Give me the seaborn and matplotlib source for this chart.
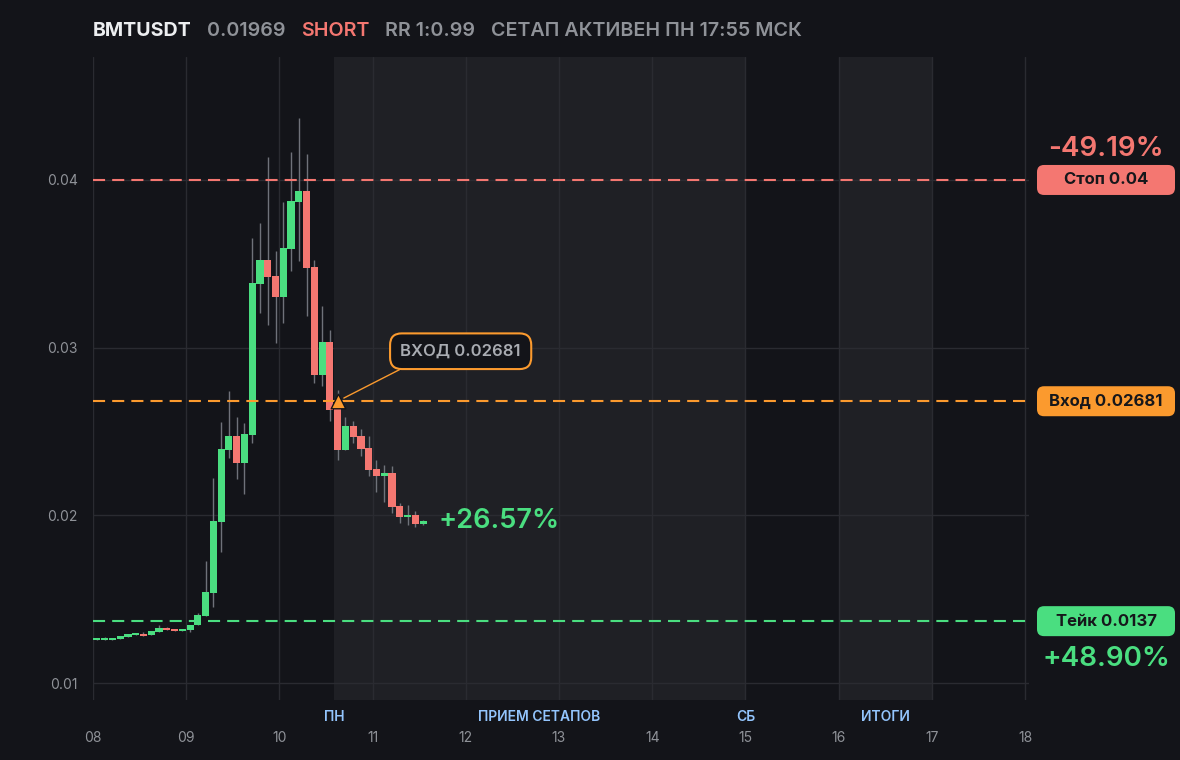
import pandas as pd
import seaborn as sns
import matplotlib
matplotlib.use("Agg")
import matplotlib.pyplot as plt
from matplotlib.patches import FancyBboxPatch
from matplotlib.transforms import IdentityTransform

# --- данные сетапа ---
symbol = "BMTUSDT"
last_price = "0.01969"
side = "SHORT"
rr = "RR 1:0.99"
status = "СЕТАП АКТИВЕН ПН 17:55 МСК"

entry = 0.02681
stop = 0.04
take = 0.0137
stop_pct = "-49.19%"
take_pct = "+48.90%"
current_pct = "+26.57%"

# 5-минутные свечи с 08:00
opens = [0.01258, 0.01260, 0.01258, 0.01266, 0.01278, 0.01290, 0.01294, 0.01287, 0.01305, 0.01329,
         0.01322, 0.01312, 0.01317, 0.01346, 0.01400, 0.01537, 0.01961, 0.02390, 0.02473, 0.02312,
         0.02479, 0.03380, 0.03523, 0.03428, 0.03302, 0.03589, 0.03869, 0.03934, 0.03481, 0.02837,
         0.03034, 0.02634, 0.02390, 0.02533, 0.02473, 0.02402, 0.02277, 0.02235, 0.02253, 0.02056,
         0.01990, 0.02002, 0.01949]
highs = [0.01264, 0.01278, 0.01266, 0.01281, 0.01293, 0.01294, 0.01305, 0.01311, 0.01346, 0.01335,
         0.01322, 0.01322, 0.01346, 0.01418, 0.01728, 0.02223, 0.02557, 0.02742, 0.02587, 0.02551,
         0.03654, 0.03744, 0.04137, 0.03577, 0.03869, 0.04167, 0.04370, 0.04155, 0.03523, 0.03249,
         0.03106, 0.02748, 0.02587, 0.02563, 0.02515, 0.02473, 0.02330, 0.02300, 0.02295, 0.02074,
         0.02062, 0.02026, 0.01973]
lows = [0.01256, 0.01258, 0.01258, 0.01266, 0.01278, 0.01290, 0.01284, 0.01287, 0.01305, 0.01318,
        0.01312, 0.01312, 0.01305, 0.01346, 0.01400, 0.01454, 0.01782, 0.02342, 0.02217, 0.02128,
        0.02432, 0.03207, 0.03135, 0.03028, 0.03147, 0.03457, 0.03517, 0.03189, 0.02790, 0.02772,
        0.02563, 0.02330, 0.02390, 0.02432, 0.02354, 0.02235, 0.02140, 0.02080, 0.02014, 0.01955,
        0.01943, 0.01931, 0.01943]
closes = [0.01262, 0.01262, 0.01266, 0.01281, 0.01293, 0.01294, 0.01284, 0.01311, 0.01329, 0.01318,
          0.01312, 0.01322, 0.01346, 0.01406, 0.01543, 0.01967, 0.02396, 0.02473, 0.02312, 0.02485,
          0.03386, 0.03523, 0.03422, 0.03302, 0.03595, 0.03875, 0.03934, 0.03475, 0.02837, 0.03034,
          0.02628, 0.02390, 0.02533, 0.02467, 0.02396, 0.02271, 0.02235, 0.02253, 0.02050, 0.01990,
          0.02002, 0.01949, 0.01969]
times = pd.date_range("2024-06-10 08:00", periods=len(opens), freq="5min")
entry_time = "10:35"

# зоны и подписи под осью (часы)
sessions = [(10 + 35 / 60, 15.0), (16.0, 17.0)]
session_labels = ["ПН", "ПРИЕМ СЕТАПОВ", "СБ", "ИТОГИ"]
session_label_pos = [10 + 35 / 60, (10 + 35 / 60 + 15.0) / 2, 15.0, 16.5]
hour_ticks = list(range(8, 19))

# цвета
BG = "#131419"
ZONE = "#1f2025"
GRID = "#2a2b31"
GREEN = "#4ade80"
RED = "#f47771"
ORANGE = "#fb9a2e"
WICK = "#6f727a"
MUTED = "#8f9298"
BLUE = "#93c5fd"

sns.set_theme(style="dark", rc={"axes.facecolor": BG, "figure.facecolor": BG})
plt.rcParams["font.family"] = ["Inter", "DejaVu Sans"]

fig = plt.figure(figsize=(11.8, 7.6), dpi=100, facecolor=BG)
ax = fig.add_axes([93 / 1180, 60 / 760, 936 / 1180, 643 / 760])
ax.set_facecolor(BG)

df = pd.DataFrame({"time": times, "open": opens, "high": highs, "low": lows, "close": closes})
df["x"] = df["time"].dt.hour + df["time"].dt.minute / 60 + 2.5 / 60
df["up"] = df["close"] >= df["open"]
df["body"] = (df["close"] - df["open"]).abs().clip(lower=0.00012)
df["bottom"] = df[["open", "close"]].min(axis=1)

for a, b in sessions:
    ax.axvspan(a, b, color=ZONE, lw=0, zorder=0)

ax.vlines(df["x"], df["low"], df["high"], color=WICK, lw=1, zorder=2)
ax.bar(df["x"], df["body"], bottom=df["bottom"], width=4.6 / 60,
       color=[GREEN if u else RED for u in df["up"]], lw=0, zorder=3)

# уровни
for price, col in [(stop, RED), (entry, ORANGE), (take, GREEN)]:
    ax.axhline(price, color=col, lw=1.5, dashes=(5.8, 3.4), zorder=4)

# точка входа
eh, em = map(int, entry_time.split(":"))
entry_x = eh + em / 60 + 2.5 / 60
sns.scatterplot(x=[entry_x], y=[entry], marker="^", s=110, color=ORANGE,
                edgecolor=BG, linewidth=1, ax=ax, zorder=6, legend=False)
ax.annotate(f"ВХОД {entry}", xy=(entry_x, entry), xytext=(123, 50),
            textcoords="offset pixels", ha="center", va="center",
            fontsize=12, fontweight="semibold", color="#a9acb2", zorder=7,
            bbox=dict(boxstyle="round,pad=0.62,rounding_size=0.7", fc=BG, ec=ORANGE, lw=1.5),
            arrowprops=dict(arrowstyle="-", color=ORANGE, lw=1, shrinkA=0, shrinkB=5,
                            relpos=(0.17, 0)))

last = df.iloc[-1]
ax.annotate(current_pct, xy=(last["x"], last["close"]), xytext=(15, 0),
            textcoords="offset pixels", ha="left", va="center",
            fontsize=19.5, fontweight="semibold", color=GREEN)

# оси
ax.set_xlim(8, 8 + 936 / 93.2)
ax.set_ylim(0.009, 0.04733)
ax.set_xticks(hour_ticks)
ax.set_xticklabels([f"{h:02d}" for h in hour_ticks])
ax.set_yticks([0.01, 0.02, 0.03, 0.04])
ax.set_yticklabels(["0.01", "0.02", "0.03", "0.04"])
ax.tick_params(axis="x", length=0, pad=22, labelsize=10, labelcolor=MUTED)
ax.tick_params(axis="y", length=0, pad=11, labelsize=10, labelcolor=MUTED)
ax.grid(True, color=GRID, lw=1)
ax.set_axisbelow(True)
for s in ax.spines.values():
    s.set_visible(False)
ax.set_xlabel("")
ax.set_ylabel("")

for lab, pos in zip(session_labels, session_label_pos):
    ax.annotate(lab, xy=(pos, 0), xycoords=("data", "axes fraction"), xytext=(0, -17),
                textcoords="offset pixels", ha="center", va="center",
                fontsize=10, fontweight="semibold", color=BLUE, annotation_clip=False)

fig.canvas.draw()
renderer = fig.canvas.get_renderer()

# правые метки уровней
for price, label, col in [(stop, f"Стоп {stop}", RED), (entry, f"Вход {entry}", ORANGE),
                          (take, f"Тейк {take}", GREEN)]:
    y_px = ax.transData.transform((0, price))[1]
    box = FancyBboxPatch((1037, y_px - 15), 138, 30, boxstyle="round,pad=0,rounding_size=7",
                         transform=IdentityTransform(), fc=col, ec="none")
    fig.add_artist(box)
    fig.text(1106, y_px, label, transform=IdentityTransform(), ha="center", va="center",
             fontsize=12, fontweight="bold", color="#16171b")

y_stop = ax.transData.transform((0, stop))[1]
y_take = ax.transData.transform((0, take))[1]
fig.text(1106, y_stop + 31, stop_pct, transform=IdentityTransform(), ha="center", va="center",
         fontsize=20, fontweight="semibold", color=RED)
fig.text(1106, y_take - 38, take_pct, transform=IdentityTransform(), ha="center", va="center",
         fontsize=20, fontweight="semibold", color=GREEN)

# заголовок
x = 93
for txt, col, w in [(symbol, "#eceef0", "bold"), (last_price, MUTED, "semibold"),
                    (side, RED, "semibold"), (rr, MUTED, "semibold"), (status, MUTED, "semibold")]:
    t = fig.text(x, 724, txt, transform=IdentityTransform(), ha="left", va="baseline",
                 fontsize=14.15, fontweight=w, color=col)
    x = t.get_window_extent(renderer).x1 + 15.5

fig.savefig("out.png", dpi=100, facecolor=BG)
